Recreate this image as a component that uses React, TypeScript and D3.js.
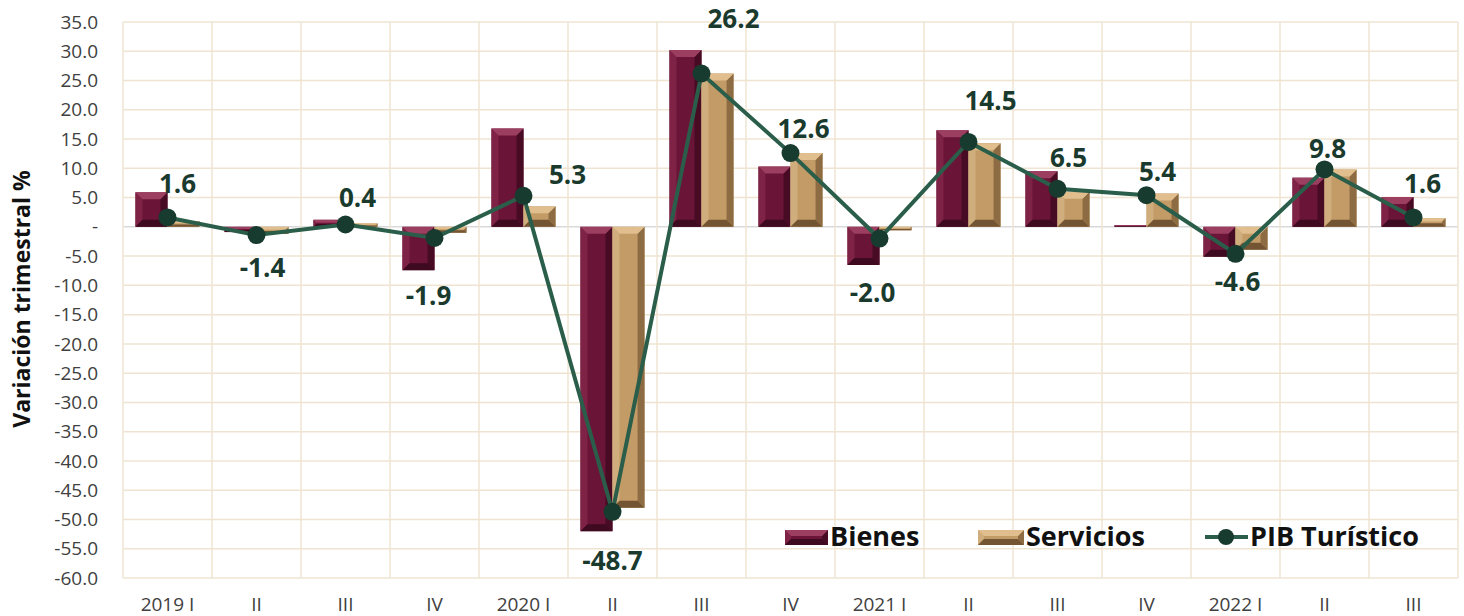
import * as d3 from "d3";
import React from "react";

const W = 1464;
const H = 616;
const MARGIN = { left: 123, right: 6, top: 22, bottom: 38 };

const categories = ["2019 I", "II", "III", "IV", "2020 I", "II", "III", "IV", "2021 I", "II", "III", "IV", "2022 I", "II", "III"];
const bienes = [5.9, -0.9, 1.2, -7.4, 16.8, -52.0, 30.2, 10.3, -6.5, 16.5, 9.5, 0.3, -5.1, 8.4, 5.1];
const servicios = [1.0, -1.2, 0.6, -1.0, 3.5, -48.0, 26.2, 12.6, -0.6, 14.3, 6.0, 5.7, -3.9, 9.8, 1.5];
const pib = [1.6, -1.4, 0.4, -1.9, 5.3, -48.7, 26.2, 12.6, -2.0, 14.5, 6.5, 5.4, -4.6, 9.8, 1.6];
const yTicks = d3.range(-60, 35.1, 5);

// label centre offsets (dx, dy) from each point, hand placed like the original
const labelOffsets: [number, number][] = [
  [10, -34], [6, 33], [12, -27], [-6, 58], [44, -21], [0, 49], [32, -55], [13, -24],
  [-7, 54], [22, -41], [11, -31], [11, -24], [2, 28], [3, -21], [9, -34],
];

const PALETTE = {
  bienes: { main: "#6a1437", top: "#9c3e60", left: "#7e2346", right: "#470b24", bottom: "#3d0a1f" },
  servicios: { main: "#c39b67", top: "#e0be8e", left: "#d0ad7c", right: "#8e6c43", bottom: "#735533" },
};

type Pal = typeof PALETTE.bienes;

const fmt = (v: number) => (v === 0 ? "-" : v.toFixed(1));

function BevelRect({ x, y, w, h, pal }: { x: number; y: number; w: number; h: number; pal: Pal }) {
  if (h <= 0 || w <= 0) return null;
  const b = Math.min(7, w / 4, h / 2.5);
  const pts = (p: number[][]) => p.map((q) => q.join(",")).join(" ");
  return (
    <g>
      <rect x={x} y={y} width={w} height={h} fill={pal.main} />
      <polygon points={pts([[x, y], [x + b, y + b], [x + b, y + h - b], [x, y + h]])} fill={pal.left} />
      <polygon points={pts([[x + w, y], [x + w - b, y + b], [x + w - b, y + h - b], [x + w, y + h]])} fill={pal.right} />
      <polygon points={pts([[x, y], [x + w, y], [x + w - b, y + b], [x + b, y + b]])} fill={pal.top} />
      <polygon points={pts([[x, y + h], [x + w, y + h], [x + w - b, y + h - b], [x + b, y + h - b]])} fill={pal.bottom} />
    </g>
  );
}

export default function App() {
  const innerW = W - MARGIN.left - MARGIN.right;
  const innerH = H - MARGIN.top - MARGIN.bottom;

  const idx = categories.map((_, i) => String(i));
  const x = d3.scaleBand().domain(idx).range([0, innerW]).paddingInner(0.28).paddingOuter(0.14);
  const step = innerW / categories.length;
  const xSub = d3.scaleBand().domain(["b", "s"]).range([0, x.bandwidth()]);
  const y = d3.scaleLinear().domain([-60, 35]).range([innerH, 0]);
  const cx = (i: number) => (x(String(i)) as number) + x.bandwidth() / 2;

  const line = d3.line<number>().x((_, i) => cx(i)).y((d) => y(d));

  const font = "'Open Sans', sans-serif";
  const grid = "#efe4d2";

  const bar = (v: number, i: number, key: "b" | "s", pal: Pal) => {
    const x0 = (x(String(i)) as number) + (xSub(key) as number);
    const top = y(Math.max(0, v));
    const h = Math.abs(y(v) - y(0));
    return <BevelRect key={key + i} x={x0} y={top} w={xSub.bandwidth()} h={h} pal={pal} />;
  };

  return (
    <svg width={W} height={H} style={{ position: "absolute", left: 0, top: 0, background: "#fff" }}>
      <g transform={`translate(${MARGIN.left},${MARGIN.top})`}>
        {yTicks.map((t) => (
          <line key={"h" + t} x1={0} x2={innerW} y1={y(t)} y2={y(t)} stroke={t === 0 ? "#d9d9d9" : grid} strokeWidth={1.5} />
        ))}
        {d3.range(categories.length + 1).map((i) => (
          <line key={"v" + i} x1={i * step} x2={i * step} y1={0} y2={innerH} stroke={grid} strokeWidth={1.5} />
        ))}
        {yTicks.map((t) => (
          <text key={"t" + t} x={-25} y={y(t)} dy="0.35em" textAnchor="end" fontFamily={font} fontSize={19} fill="#404040">
            {fmt(t)}
          </text>
        ))}
        {categories.map((c, i) => (
          <text key={"c" + i} x={cx(i)} y={innerH + 33} textAnchor="middle" fontFamily={font} fontSize={19} fill="#404040">
            {c}
          </text>
        ))}
        {bienes.map((v, i) => bar(v, i, "b", PALETTE.bienes))}
        {servicios.map((v, i) => bar(v, i, "s", PALETTE.servicios))}
        <path d={line(pib) || ""} fill="none" stroke="#2b5e4a" strokeWidth={4} />
        {pib.map((v, i) => (
          <circle key={"p" + i} cx={cx(i)} cy={y(v)} r={9} fill="#183b2f" />
        ))}
        {pib.map((v, i) => (
          <text
            key={"l" + i}
            x={cx(i) + labelOffsets[i][0]}
            y={y(v) + labelOffsets[i][1]}
            dy="0.36em"
            textAnchor="middle"
            fontFamily={font}
            fontWeight={700}
            fontSize={26}
            fill="#1a3a2e"
          >
            {fmt(v)}
          </text>
        ))}
      </g>
      <text
        transform="translate(22,299) rotate(-90)"
        dy="0.35em"
        textAnchor="middle"
        fontFamily={font}
        fontWeight={700}
        fontSize={23}
        fill="#111"
      >
        Variación trimestral %
      </text>
      <g fontFamily={font} fontWeight={700} fontSize={27} fill="#111">
        <BevelRect x={785} y={530} w={43} h={15} pal={PALETTE.bienes} />
        <text x={830} y={537} dy="0.35em">Bienes</text>
        <BevelRect x={978} y={530} w={46} h={15} pal={PALETTE.servicios} />
        <text x={1026} y={537} dy="0.35em">Servicios</text>
        <line x1={1205} x2={1248} y1={537} y2={537} stroke="#2b5e4a" strokeWidth={4} />
        <circle cx={1226} cy={537} r={8} fill="#183b2f" />
        <text x={1250} y={537} dy="0.35em">PIB Turístico</text>
      </g>
    </svg>
  );
}
